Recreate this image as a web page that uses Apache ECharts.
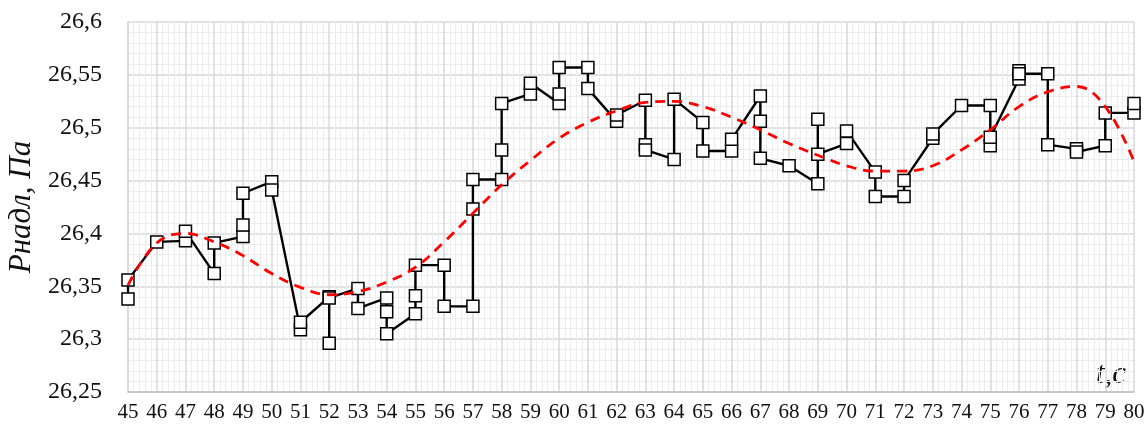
<!DOCTYPE html>
<html>
<head>
<meta charset="utf-8">
<script src="https://cdn.jsdelivr.net/npm/echarts@6/dist/echarts.min.js"></script>
<style>
  html, body { margin: 0; padding: 0; background: #fff; }
  #chart { width: 1148px; height: 430px; }
</style>
</head>
<body>
<div id="chart"></div>
<script>
// measured points: time, s
const tPoints = [
  45, 45, 46, 47, 47, 48, 48, 49, 49, 49,
  50, 50, 51, 51, 52, 52, 52, 53, 53, 54, 54, 54,
  55, 55, 55, 56, 56, 57, 57, 57, 58, 58, 58, 59, 59,
  60, 60, 60, 61, 61, 62, 62, 63, 63, 63, 64, 64,
  65, 65, 66, 66, 67, 67, 67, 68, 69, 69, 69,
  70, 70, 71, 71, 72, 72, 73, 73, 74, 75, 75, 75,
  76, 76, 76, 77, 77, 78, 78, 79, 79, 80, 80
];
// measured pressure, Pa
const pPoints = [
  26.338, 26.356, 26.392, 26.393, 26.402, 26.362, 26.391, 26.397, 26.408, 26.438,
  26.449, 26.441, 26.309, 26.316, 26.340, 26.296, 26.339, 26.348, 26.329, 26.339, 26.326, 26.305,
  26.324, 26.341, 26.370, 26.370, 26.331, 26.331, 26.423, 26.451, 26.451, 26.479, 26.523, 26.532, 26.542,
  26.523, 26.532, 26.557, 26.557, 26.537, 26.506, 26.512, 26.526, 26.484, 26.479, 26.470, 26.527,
  26.505, 26.478, 26.478, 26.489, 26.530, 26.506, 26.471, 26.464, 26.447, 26.508, 26.475,
  26.485, 26.497, 26.458, 26.435, 26.435, 26.450, 26.490, 26.494, 26.521, 26.521, 26.483, 26.491,
  26.546, 26.554, 26.551, 26.551, 26.484, 26.480, 26.477, 26.483, 26.514, 26.514, 26.523
];
// trend line (red dashed)
const trendT = [
  45, 46, 47, 48, 49, 50, 51, 52, 53, 54, 55, 56, 57, 58, 59, 60, 61, 62,
  63, 64, 65, 66, 67, 68, 69, 70, 71, 72, 73, 74, 75, 76, 77, 78, 79, 80
];
const trendP = [
  26.351, 26.391, 26.400, 26.392, 26.379, 26.362, 26.349, 26.342, 26.345, 26.354,
  26.368, 26.392, 26.419, 26.446, 26.469, 26.490, 26.505, 26.516,
  26.524, 26.525, 26.520, 26.510, 26.498, 26.485, 26.474, 26.464, 26.459, 26.459,
  26.464, 26.479, 26.498, 26.520, 26.534, 26.539, 26.520, 26.468
];

const chart = echarts.init(document.getElementById("chart"));
const serif = "Liberation Serif";

const option = {
  animation: false,
  backgroundColor: "#fff",
  grid: { left: 128, right: 14, top: 22, bottom: 38, outerBoundsMode: "none" },
  xAxis: {
    type: "value",
    min: 45,
    max: 80,
    interval: 1,
    axisLine: { show: true, lineStyle: { color: "#bfbfbf", width: 1.5 } },
    axisTick: { show: false },
    axisLabel: { margin: 10, color: "#111", fontFamily: serif, fontSize: 21 },
    splitLine: { show: true, lineStyle: { color: "#d9d9d9", width: 1.5 } },
    minorTick: { show: false, splitNumber: 5 },
    minorSplitLine: { show: true, lineStyle: { color: "#ececec", width: 1 } }
  },
  yAxis: {
    type: "value",
    min: 26.25,
    max: 26.6,
    interval: 0.05,
    name: "Рнадл, Па",
    nameLocation: "middle",
    nameGap: 76,
    nameRotate: 90,
    nameTextStyle: { color: "#111", fontFamily: serif, fontStyle: "italic", fontSize: 31 },
    axisLine: { show: true, lineStyle: { color: "#d9d9d9", width: 1.5 } },
    axisTick: { show: false },
    axisLabel: {
      margin: 26,
      color: "#111",
      fontFamily: serif,
      fontSize: 24,
      formatter: (v) => String(+v.toFixed(2)).replace(".", ",")
    },
    splitLine: { show: true, lineStyle: { color: "#d9d9d9", width: 1.5 } },
    minorTick: { show: false, splitNumber: 5 },
    minorSplitLine: { show: true, lineStyle: { color: "#ececec", width: 1 } }
  },
  graphic: [
    {
      type: "text",
      right: 22,
      bottom: 40,
      style: {
        text: "t,c",
        fill: "#111",
        font: "italic 31px 'Liberation Serif'"
      }
    }
  ],
  series: [
    {
      type: "line",
      data: tPoints.map((t, i) => [t, pPoints[i]]),
      symbol: "rect",
      symbolSize: 12,
      showAllSymbol: true,
      lineStyle: { color: "#000", width: 2.4 },
      itemStyle: { color: "#fff", borderColor: "#000", borderWidth: 1.5 },
      z: 2
    },
    {
      type: "line",
      data: trendT.map((t, i) => [t, trendP[i]]),
      smooth: 0.4,
      showSymbol: false,
      lineStyle: { color: "#ff0000", width: 2.8, type: [10, 7] },
      z: 3
    }
  ]
};
chart.setOption(option);
</script>
</body>
</html>
